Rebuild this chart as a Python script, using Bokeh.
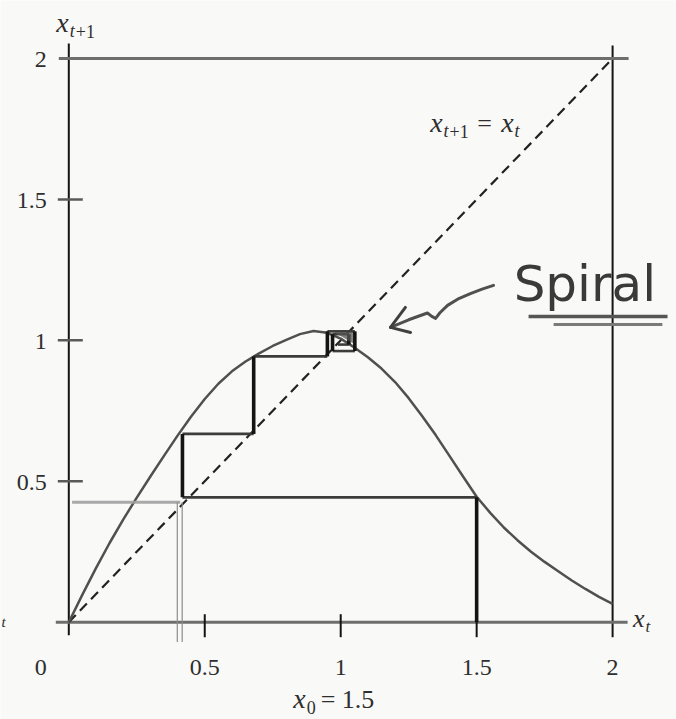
from bokeh.plotting import figure
from bokeh.models import Range1d
from bokeh.core.properties import value
from bokeh.embed import file_html
from bokeh.resources import INLINE

# ---- data -------------------------------------------------------------
# map x_{t+1} = f(x_t), sampled along x_t
curve_x = [0.00, 0.05, 0.10, 0.15, 0.20, 0.25, 0.30, 0.35, 0.40, 0.45,
           0.50, 0.55, 0.60, 0.65, 0.70, 0.75, 0.80, 0.85, 0.90, 0.95,
           1.00, 1.05, 1.10, 1.15, 1.20, 1.25, 1.30, 1.35, 1.40, 1.45,
           1.50, 1.55, 1.60, 1.65, 1.70, 1.75, 1.80, 1.85, 1.90, 1.95, 2.00]
curve_y = [0.000, 0.098, 0.192, 0.281, 0.364, 0.442, 0.517, 0.590, 0.662, 0.730,
           0.792, 0.846, 0.890, 0.925, 0.954, 0.980, 1.002, 1.022, 1.033, 1.027,
           1.006, 0.975, 0.940, 0.900, 0.852, 0.795, 0.731, 0.663, 0.590, 0.517,
           0.445, 0.388, 0.336, 0.291, 0.250, 0.214, 0.181, 0.148, 0.118, 0.090, 0.065]

# identity line x_{t+1} = x_t
diag_x = [0.0, 2.0]
diag_y = [0.0, 2.0]

# cobweb drawn in ink, starting from x0 = 1.5
web_x = [1.500, 1.500, 0.418, 0.418, 0.680, 0.680, 0.951, 0.951, 1.052, 1.052, 0.970, 0.970, 1.030, 1.030, 0.990]
web_y = [0.000, 0.443, 0.443, 0.668, 0.668, 0.943, 0.943, 1.032, 1.032, 0.962, 0.962, 1.022, 1.022, 0.985, 0.985]

# pencil guide lines
pencil_h_x = [0.012, 0.410]
pencil_h_y = [0.426, 0.426]
pencil_v_x = [0.399, 0.417]
pencil_v_top = 0.426
pencil_v_bottom = -0.07

# ticks and their labels
x_ticks = [0.5, 1.0, 1.5]
y_ticks = [0.5, 1.0, 1.5]
x_label_pos = [0.5, 1.0, 1.5, 2.0]
x_label_txt = ["0.5", "1", "1.5", "2"]
y_label_pos = [0.5, 1.0, 1.5, 2.0]
y_label_txt = ["0.5", "1", "1.5", "2"]
axis_lo, axis_hi = 0.0, 2.0

# hand-written note
note_text = "Spiral"
note_xy = (1.636, 1.141)
arrow_x = [1.562, 1.520, 1.477, 1.430, 1.393, 1.365, 1.349, 1.335, 1.319, 1.250, 1.183]
arrow_y = [1.195, 1.182, 1.166, 1.146, 1.124, 1.098, 1.078, 1.085, 1.097, 1.073, 1.046]
arrow_head_x = [1.238, 1.183, 1.257]
arrow_head_y = [1.117, 1.046, 1.028]
underline_x0 = [1.691, 1.783]
underline_x1 = [2.202, 2.183]
underline_y = [1.085, 1.056]

# ---- page geometry ------------------------------------------------------
W, H = 676, 719
OX, OY = 68.3, 621.7          # pixel position of the origin
SX, SY = 271.9, 281.85        # pixels per unit


def dx(px):
    return px / SX


def dy(px):
    return px / SY


p = figure(width=W, height=H,
           x_range=Range1d(-OX / SX, (W - OX) / SX),
           y_range=Range1d(-(H - OY) / SY, OY / SY),
           x_axis_type=None, y_axis_type=None,
           output_backend="svg", toolbar_location=None,
           min_border=0, outline_line_color=None,
           background_fill_color="#f9f9f7", border_fill_color="#f9f9f7")

INK = "#2e2e2e"
SERIF = value("Liberation Serif")

# frame: axes at 0 and lines at 2
p.segment(x0=[axis_lo], y0=[axis_lo - dy(13)], x1=[axis_lo], y1=[axis_hi + dy(15)],
          line_color="#141414", line_width=2)
p.segment(x0=[axis_hi], y0=[axis_lo - dy(15)], x1=[axis_hi], y1=[axis_hi + dy(13)],
          line_color="#141414", line_width=2)
p.segment(x0=[axis_lo - dx(13)], y0=[axis_lo], x1=[axis_hi + dx(15)], y1=[axis_lo],
          line_color="#6e6e6e", line_width=3)
p.segment(x0=[axis_lo - dx(10)], y0=[axis_hi], x1=[axis_hi + dx(16)], y1=[axis_hi],
          line_color="#6e6e6e", line_width=3)

# tick marks
p.segment(x0=[axis_lo - dx(11)] * len(y_ticks), y0=y_ticks,
          x1=[axis_lo + dx(14)] * len(y_ticks), y1=y_ticks,
          line_color="#5a5a5a", line_width=2.5)
p.segment(x0=x_ticks, y0=[axis_lo - dy(15)] * len(x_ticks),
          x1=x_ticks, y1=[axis_lo + dy(8)] * len(x_ticks),
          line_color="#141414", line_width=2)

# tick labels
p.text(x=[axis_lo] * len(y_label_pos), y=y_label_pos, text=y_label_txt,
       x_offset=-22, y_offset=1, text_align="right", text_baseline="middle",
       text_font=SERIF, text_font_size="24px", text_color=INK)
p.text(x=x_label_pos, y=[axis_lo] * len(x_label_pos), text=x_label_txt,
       x_offset=0, y_offset=45, text_align="center", text_baseline="middle",
       text_font=SERIF, text_font_size="24px", text_color=INK)
p.text(x=[axis_lo], y=[axis_lo], text=["0"], x_offset=-28, y_offset=45,
       text_align="center", text_baseline="middle",
       text_font=SERIF, text_font_size="24px", text_color=INK)


def put(x, y, txt, xo, base, size, style="normal", align="left"):
    """Place text so that its baseline sits `base` pixels below (x, y)."""
    p.text(x=[x], y=[y], text=[txt], x_offset=xo, y_offset=base - 0.34 * size,
           text_align=align, text_baseline="middle",
           text_font=SERIF, text_font_size=f"{size}px",
           text_font_style=style, text_color=INK)


# axis names
put(axis_lo, axis_hi, "x", 0, -26, 28, "italic", "right")
put(axis_lo, axis_hi, "t", 1, -21, 18, "italic")
put(axis_lo, axis_hi, "+1", 7, -21, 18)
put(axis_hi, axis_lo, "x", 32, 5, 26, "italic", "right")
put(axis_hi, axis_lo, "t", 33, 10, 17, "italic")
put(-OX / SX, axis_lo, "t", 1, 5, 15, "italic")

# identity line label
put(axis_hi, axis_hi, "x", -170, 74, 28, "italic", "right")
put(axis_hi, axis_hi, "t", -169, 79, 18, "italic")
put(axis_hi, axis_hi, "+1", -163, 79, 18)
put(axis_hi, axis_hi, "=", -128, 74, 26, "normal", "center")
put(axis_hi, axis_hi, "x", -99, 74, 28, "italic", "right")
put(axis_hi, axis_hi, "t", -98, 79, 18, "italic")

# starting value caption
put(1.0, axis_lo, "x", -35, 86, 28, "italic", "right")
put(1.0, axis_lo, "0", -34, 91, 18)
put(1.0, axis_lo, "= 1.5", -20, 86, 26)

# identity line and map curve
p.line(diag_x, diag_y, line_color="#222222", line_width=2.2, line_dash="10 6")
p.line(curve_x, curve_y, line_color="#505050", line_width=2.5)

# pencil guides
p.line(pencil_h_x, pencil_h_y, line_color="#a0a0a0", line_width=3, line_alpha=0.9)
p.segment(x0=pencil_v_x, y0=[pencil_v_top] * 2, x1=pencil_v_x, y1=[pencil_v_bottom] * 2,
          line_color="#8c8c8c", line_width=1.2)

# cobweb: vertical strokes heavier than horizontal ones
vx0, vy0, vx1, vy1 = [], [], [], []
hx0, hy0, hx1, hy1 = [], [], [], []
for i in range(len(web_x) - 1):
    a = (web_x[i], web_y[i])
    b = (web_x[i + 1], web_y[i + 1])
    if a[0] == b[0]:
        vx0.append(a[0]); vy0.append(a[1]); vx1.append(b[0]); vy1.append(b[1])
    else:
        hx0.append(a[0]); hy0.append(a[1]); hx1.append(b[0]); hy1.append(b[1])
p.segment(x0=hx0, y0=hy0, x1=hx1, y1=hy1, line_color="#3c3c3c", line_width=2.6)
p.segment(x0=vx0, y0=vy0, x1=vx1, y1=vy1, line_color="#141414", line_width=3.6)
p.patch([0.975, 1.045, 1.045], [1.030, 1.030, 0.990], fill_color="#555555",
        fill_alpha=0.75, line_color=None)

# hand-written note with arrow
p.line(arrow_x, arrow_y, line_color="#505050", line_width=3, line_join="round", line_cap="round")
p.line(arrow_head_x, arrow_head_y, line_color="#404040", line_width=3, line_join="round", line_cap="round")
p.segment(x0=underline_x0, y0=underline_y, x1=underline_x1, y1=underline_y,
          line_color=["#555555", "#7a7a7a"], line_width=[3.5, 3])
p.text(x=[note_xy[0]], y=[note_xy[1]], text=[note_text], y_offset=-17,
       text_font=value("DejaVu Sans"), text_font_size="50px",
       text_color="#3a3a3a", text_align="left", text_baseline="middle")

open("out.html", "w").write(file_html(p, INLINE))
